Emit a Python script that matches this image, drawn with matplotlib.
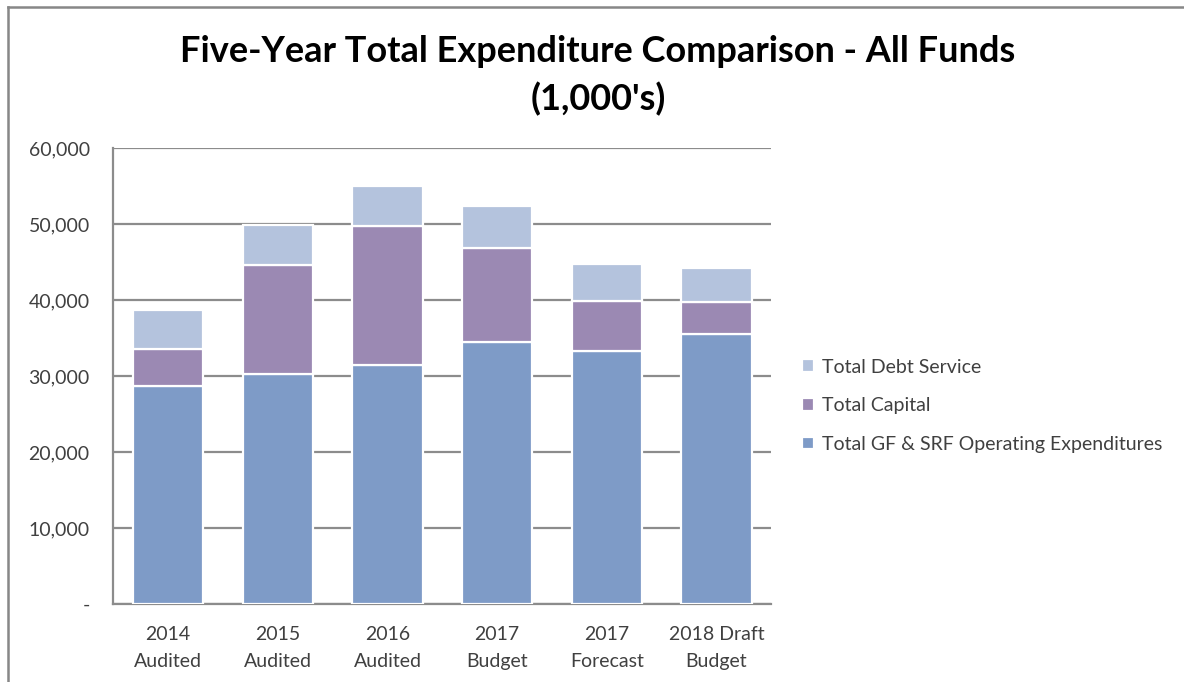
import matplotlib.pyplot as plt
from matplotlib.lines import Line2D
from matplotlib.ticker import FuncFormatter

categories = ["2014\nAudited", "2015\nAudited", "2016\nAudited",
              "2017\nBudget", "2017\nForecast", "2018 Draft\nBudget"]
operating = [28700, 30300, 31400, 34500, 33300, 35600]
capital = [4900, 14300, 18400, 12400, 6600, 4200]
debt_service = [5100, 5300, 5200, 5500, 4800, 4400]
series_names = ["Total GF & SRF Operating Expenditures", "Total Capital", "Total Debt Service"]
y_ticks = [0, 10000, 20000, 30000, 40000, 50000, 60000]

colors = ["#7E9BC7", "#9B89B3", "#B4C3DD"]
text_color = "#404040"
grid_color = "#8C8C8C"
font = "Lato"

fig = plt.figure(figsize=(11.84, 6.82), dpi=100)
ax = fig.add_axes([0.0957, 0.1144, 0.5557, 0.6682])

x = list(range(len(categories)))
bottom = [0] * len(categories)
handles = []
for vals, col, name in zip([operating, capital, debt_service], colors, series_names):
    bars = ax.bar(x, vals, width=0.64, bottom=bottom, color=col,
                  edgecolor="white", linewidth=1.6, label=name, zorder=3)
    handles.append(bars)
    bottom = [b + v for b, v in zip(bottom, vals)]

ax.set_xlim(-0.5, len(categories) - 0.5)
ax.set_ylim(0, 60000)
ax.set_yticks(y_ticks)
ax.yaxis.set_major_formatter(FuncFormatter(lambda v, p: "-" if v == 0 else f"{int(v):,}"))
ax.set_xticks(x)
ax.set_xticklabels(categories, linespacing=1.7)
ax.grid(axis="y", color=grid_color, linewidth=1.6, zorder=0)
for side in ["top", "right"]:
    ax.spines[side].set_visible(False)
for side in ["left", "bottom"]:
    ax.spines[side].set_color(grid_color)
    ax.spines[side].set_linewidth(1.6)
ax.tick_params(axis="both", length=0, labelsize=14, labelcolor=text_color)
ax.tick_params(axis="y", pad=17)
ax.tick_params(axis="x", pad=16)
for lbl in ax.get_xticklabels() + ax.get_yticklabels():
    lbl.set_fontfamily(font)

fig.text(0.505, 0.924, "Five-Year Total Expenditure Comparison - All Funds",
         ha="center", va="center", fontsize=26, fontweight="bold", family=font, color="black")
fig.text(0.505, 0.855, "(1,000's)", ha="center", va="center",
         fontsize=26, fontweight="bold", family=font, color="black")

leg = fig.legend(handles=handles[::-1], labels=series_names[::-1],
                 loc="center left", bbox_to_anchor=(0.663, 0.405), frameon=False,
                 prop={"family": font, "size": 14}, labelcolor=text_color,
                 handlelength=0.6, handleheight=0.6, handletextpad=0.42, labelspacing=1.12)

# chart area frame
fig.add_artist(Line2D([8 / 1184, 8 / 1184], [0, 1 - 7 / 682], transform=fig.transFigure,
                      color="#878787", linewidth=1.8))
fig.add_artist(Line2D([8 / 1184, 1], [1 - 7 / 682, 1 - 7 / 682], transform=fig.transFigure,
                      color="#878787", linewidth=1.8))

fig.savefig("out.png", dpi=100)
